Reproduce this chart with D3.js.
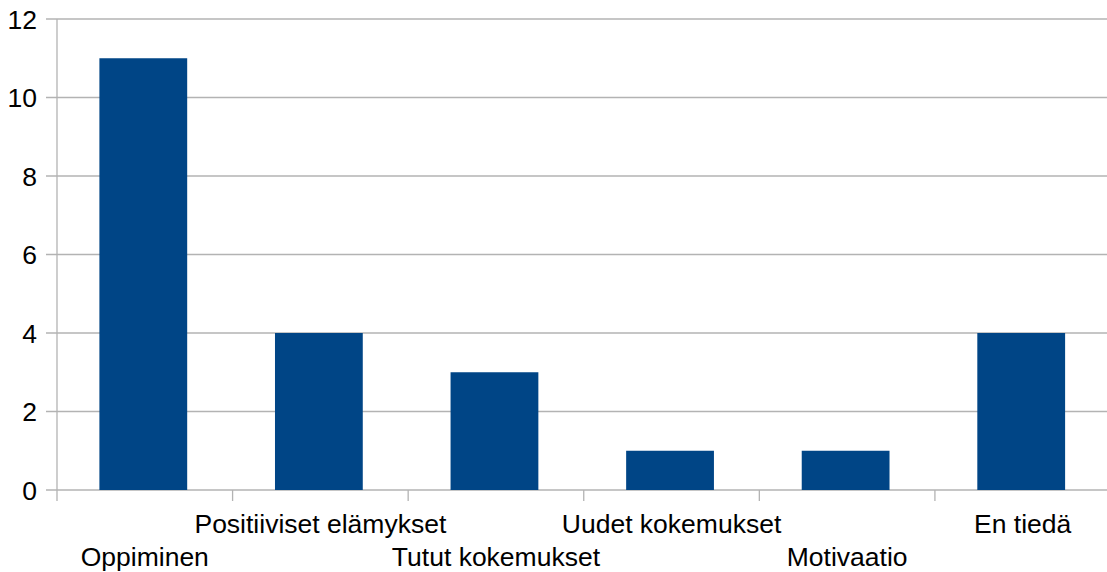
<!DOCTYPE html>
<html>
<head>
<meta charset="utf-8">
<script src="https://cdn.jsdelivr.net/npm/d3@7"></script>
<style>
  body { margin: 0; background: #fff; }
  text { font-family: "Liberation Sans", Arial, sans-serif; fill: #000; }
</style>
</head>
<body>
<script>
const categories = ['Oppiminen', 'Positiiviset elämykset', 'Tutut kokemukset', 'Uudet kokemukset', 'Motivaatio', 'En tiedä'];
const values = [11, 4, 3, 1, 1, 4];
const yTicks = [0, 2, 4, 6, 8, 10, 12];

const width = 1107, height = 572;
const plotLeft = 57, plotRight = 1110.5, plotTop = 19, plotBottom = 490;

const svg = d3.select('body').append('svg')
	.attr('width', width)
	.attr('height', height);

const x = d3.scaleBand()
	.domain(categories)
	.range([plotLeft - 1.5, plotRight - 1.5])
	.paddingInner(0.5)
	.paddingOuter(0.25);

// category slots (for boundary ticks and label centres)
const slots = d3.scaleBand().domain(categories).range([plotLeft, plotRight]);

const y = d3.scaleLinear()
	.domain([0, 12])
	.range([plotBottom, plotTop]);

// horizontal grid + left ticks
svg.append('g')
	.selectAll('line')
	.data(yTicks)
	.join('line')
	.attr('x1', plotLeft - 11)
	.attr('x2', plotRight)
	.attr('y1', d => y(d))
	.attr('y2', d => y(d))
	.attr('stroke', '#b3b3b3')
	.attr('stroke-width', 1.3);

// vertical axis line
svg.append('line')
	.attr('x1', plotLeft).attr('x2', plotLeft)
	.attr('y1', plotTop).attr('y2', plotBottom + 11)
	.attr('stroke', '#b3b3b3')
	.attr('stroke-width', 1.3);

// category boundary ticks
svg.append('g')
	.selectAll('line')
	.data(categories.slice(1))
	.join('line')
	.attr('x1', d => slots(d))
	.attr('x2', d => slots(d))
	.attr('y1', plotBottom)
	.attr('y2', plotBottom + 11)
	.attr('stroke', '#b3b3b3')
	.attr('stroke-width', 1.3);

// bars
svg.append('g')
	.selectAll('rect')
	.data(values)
	.join('rect')
	.attr('x', (d, i) => x(categories[i]))
	.attr('width', x.bandwidth())
	.attr('y', d => y(d))
	.attr('height', d => y(0) - y(d))
	.attr('fill', '#004586');

// y labels
svg.append('g')
	.selectAll('text')
	.data(yTicks)
	.join('text')
	.attr('x', 37)
	.attr('y', d => y(d) + 9.5)
	.attr('text-anchor', 'end')
	.style('font-size', '26.5px')
	.text(d => d);

// category labels, staggered
svg.append('g')
	.selectAll('text')
	.data(categories)
	.join('text')
	.attr('x', d => slots(d) + slots.bandwidth() / 2)
	.attr('y', (d, i) => i % 2 ? 533 : 566)
	.attr('text-anchor', 'middle')
	.style('font-size', '26.5px')
	.text(d => d);
</script>
</body>
</html>
